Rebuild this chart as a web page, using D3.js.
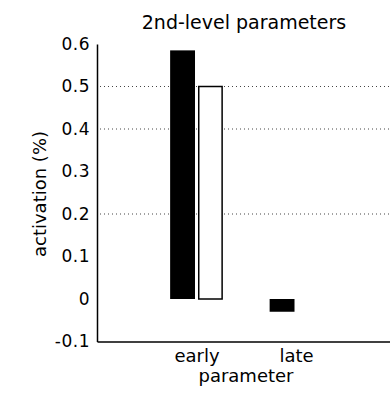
<!DOCTYPE html>
<html>
<head>
<meta charset="utf-8">
<script src="https://cdn.jsdelivr.net/npm/d3@7"></script>
<style>
  body { margin: 0; background: #fff; }
  text { font-family: "DejaVu Sans", sans-serif; fill: #000; }
</style>
</head>
<body>
<div id="chart"></div>
<script>
// chart data
var categories = ["early", "late"];
var filledValues = [0.585, -0.03];
var openValues = [0.5, null];
var yTicks = [-0.1, 0, 0.1, 0.2, 0.3, 0.4, 0.5, 0.6];
var yTickLabels = ["-0.1", "0", "0.1", "0.2", "0.3", "0.4", "0.5", "0.6"];
var gridValues = [0.5, 0.4, 0.2];

var svgWidth = 390;
var svgHeight = 396;

var svg = d3.select("#chart")
  .append("svg")
  .attr("width", svgWidth)
  .attr("height", svgHeight);

// x: category positions 1,2 on a 0..3 axis (right end is cut off)
var x = d3.scaleLinear().domain([0, 3]).range([97, 395.5]);
var y = d3.scaleLinear().domain([-0.1, 0.6]).range([341.5, 44]);

var barW = 0.25, gap = 0.015;

// dotted grid lines
svg.selectAll("line.grid")
  .data(gridValues)
  .enter()
  .append("line")
  .attr("class", "grid")
  .attr("x1", x(0) + 3)
  .attr("x2", x(3))
  .attr("y1", d => y(d))
  .attr("y2", d => y(d))
  .attr("stroke", "#444")
  .attr("stroke-width", 1)
  .attr("stroke-dasharray", "1,3");

// filled bars
svg.selectAll("rect.filled")
  .data(categories)
  .enter()
  .append("rect")
  .attr("class", "filled")
  .attr("x", (d, i) => x(i + 1 - gap - barW))
  .attr("width", x(barW) - x(0))
  .attr("y", (d, i) => y(Math.max(0, filledValues[i])))
  .attr("height", (d, i) => Math.abs(y(filledValues[i]) - y(0)))
  .attr("fill", "#000");

// open bars
svg.selectAll("rect.open")
  .data(categories.filter((d, i) => openValues[i] !== null))
  .enter()
  .append("rect")
  .attr("class", "open")
  .attr("x", d => x(categories.indexOf(d) + 1 + gap) + 0.75)
  .attr("width", x(barW) - x(0) - 1.5)
  .attr("y", d => y(openValues[categories.indexOf(d)]))
  .attr("height", d => y(0) - y(openValues[categories.indexOf(d)]))
  .attr("fill", "#fff")
  .attr("stroke", "#000")
  .attr("stroke-width", 1.5);

// axes
var yAxis = d3.axisLeft(y)
  .tickValues(yTicks)
  .tickFormat((d, i) => yTickLabels[i])
  .tickSize(0)
  .tickPadding(7);

var gy = svg.append("g")
  .attr("transform", `translate(${x(0)}, 0)`)
  .call(yAxis);
gy.select(".domain").attr("stroke", "#000").attr("stroke-width", 1.5);
gy.selectAll("text")
  .attr("font-size", "17px")
  .attr("letter-spacing", "0.5px")
  .attr("font-family", "DejaVu Sans, sans-serif");

var xAxis = d3.axisBottom(x)
  .tickValues([1, 2])
  .tickFormat((d, i) => categories[i])
  .tickSize(0)
  .tickSizeOuter(0)
  .tickPadding(8);

var gx = svg.append("g")
  .attr("transform", `translate(0, ${y(-0.1)})`)
  .call(xAxis);
gx.select(".domain").attr("stroke", "#000").attr("stroke-width", 1.5);
gx.selectAll("text")
  .attr("font-size", "18px")
  .attr("font-family", "DejaVu Sans, sans-serif");

// titles
svg.append("text")
  .attr("x", 244)
  .attr("y", 29)
  .attr("text-anchor", "middle")
  .attr("font-size", "19px")
  .text("2nd-level parameters");

svg.append("text")
  .attr("x", 246)
  .attr("y", 382)
  .attr("text-anchor", "middle")
  .attr("font-size", "18px")
  .text("parameter");

svg.append("text")
  .attr("transform", "rotate(-90)")
  .attr("x", -194)
  .attr("y", 46)
  .attr("text-anchor", "middle")
  .attr("font-size", "18px")
  .text("activation (%)");
</script>
</body>
</html>
